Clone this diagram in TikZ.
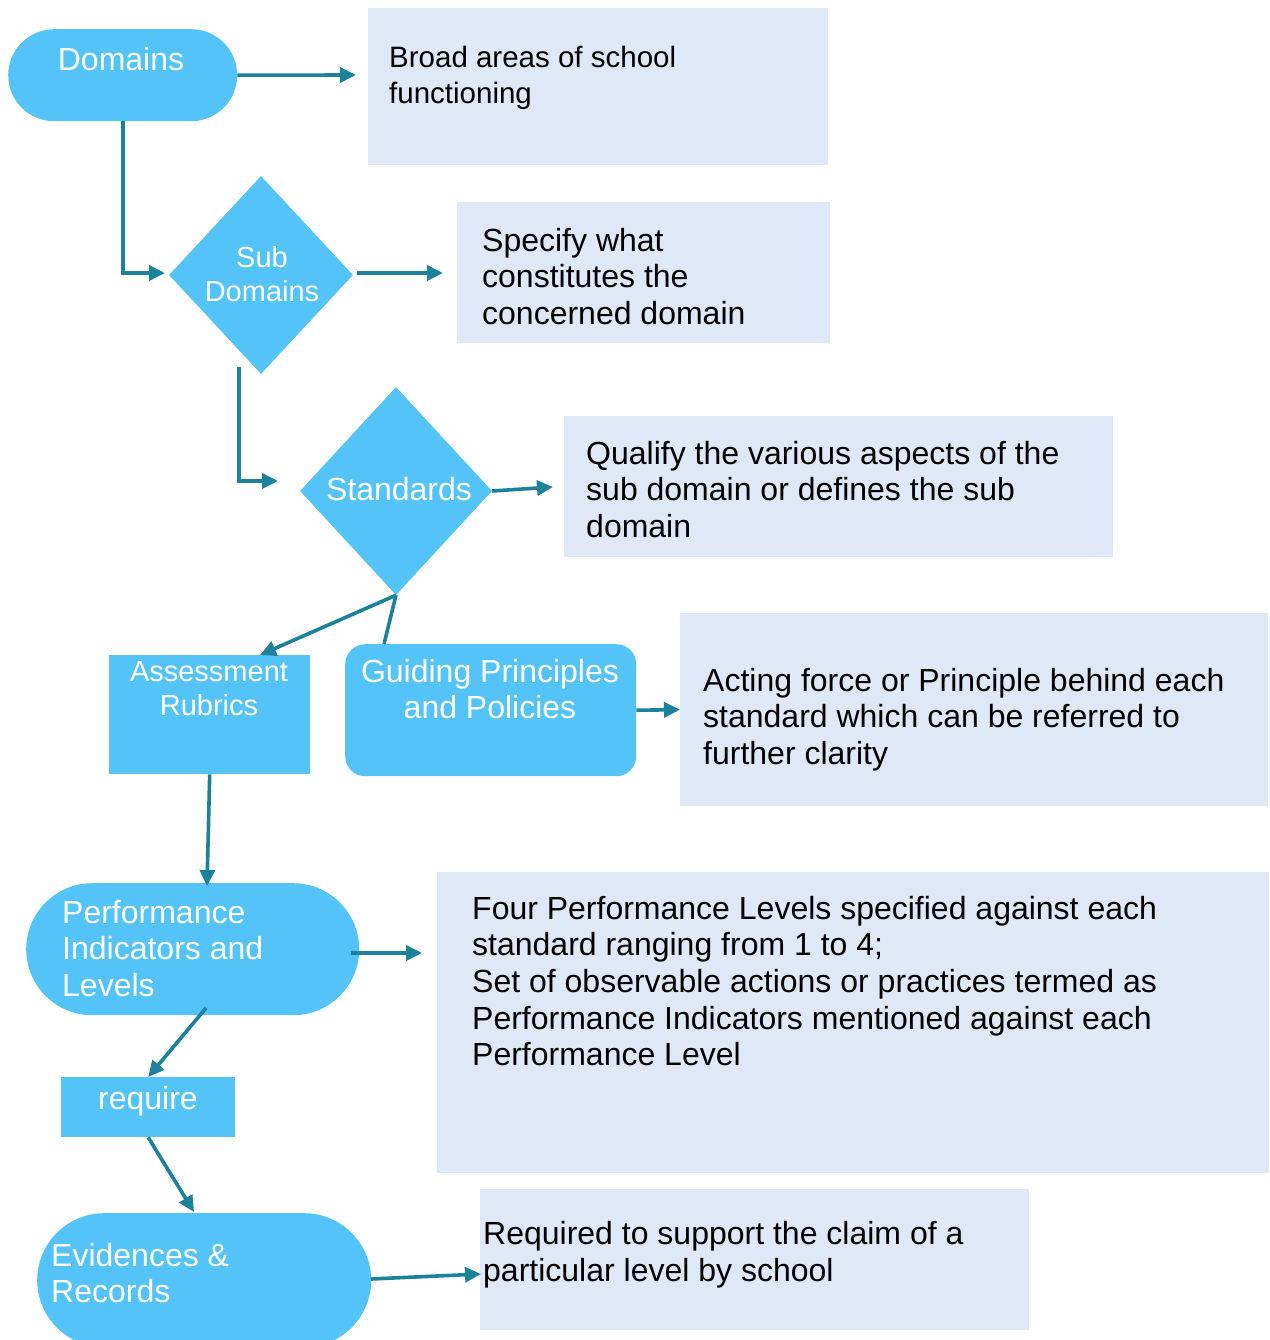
\documentclass[tikz,border=0pt]{standalone}
\usepackage{fontspec}
\setmainfont{Liberation Sans}
\usetikzlibrary{shapes.geometric,arrows.meta,calc}
\definecolor{nodeblue}{HTML}{54C3F8}
\definecolor{boxblue}{HTML}{DEE8F6}
\definecolor{linkcol}{HTML}{1C819B}
\tikzset{
  flow/.style={fill=nodeblue, draw=none, inner sep=0pt, anchor=north west},
  stadium/.style={flow, rectangle, rounded corners=#1},
  gem/.style={fill=nodeblue, draw=none, shape=diamond, inner sep=0pt},
  note/.style={fill=boxblue, draw=none, inner sep=0pt, anchor=north west},
  wtxt/.style={text=white, inner sep=0pt, font=\fontsize{32}{36.5}\selectfont},
  wsmall/.style={text=white, inner sep=0pt, font=\fontsize{29}{34}\selectfont},
  btxt/.style={text=black, inner sep=0pt, anchor=north west, align=left, font=\fontsize{32}{36.6}\selectfont},
  link/.style={draw=linkcol, line width=3.6pt, -{Triangle[length=16pt,width=15pt]}},
  plainlink/.style={draw=linkcol, line width=3.6pt},
}
\begin{document}
\begin{tikzpicture}[x=1pt,y=-1pt]
\useasboundingbox (0,0) rectangle (1269,1340);
\clip (0,0) rectangle (1269,1340);

% explanation boxes
\node[note, minimum width=460, minimum height=157] (b1) at (368,8) {};
\node[note, minimum width=373, minimum height=141] (b2) at (457,202) {};
\node[note, minimum width=549, minimum height=141] (b3) at (564,416) {};
\node[note, minimum width=588, minimum height=193] (b4) at (680,613) {};
\node[note, minimum width=832, minimum height=301] (b5) at (437,872) {};
\node[note, minimum width=549, minimum height=141] (b6) at (480,1189) {};

% flow shapes
\node[stadium=46pt, minimum width=229, minimum height=92] (dom) at (8,29) {};
\node[gem, minimum width=184, minimum height=198] (sub) at (261,275) {};
\node[gem, minimum width=192, minimum height=208] (std) at (396,491) {};
\node[flow, minimum width=201, minimum height=119] (ar) at (109,655) {};
\node[stadium=20pt, minimum width=291, minimum height=132] (gp) at (345,644) {};
\node[stadium=66pt, minimum width=333, minimum height=132] (pil) at (26,883) {};
\node[flow, minimum width=174, minimum height=60] (req) at (61,1077) {};
\node[stadium=67pt, minimum width=334, minimum height=134] (ev) at (37,1213) {};

% labels of the flow shapes
\node[wtxt, anchor=base] (domt) at (121,70.5) {Domains};
\node[wsmall, anchor=north, align=center] (subt) at (262,246) {Sub\\Domains};
\node[wtxt, anchor=base] (stdt) at (399,500.5) {Standards};
\node[wsmall, anchor=north, align=center] (art) at (209,661) {Assessment\\Rubrics};
\node[wtxt, anchor=north, align=center] (gpt) at (490,659) {Guiding Principles\\and Policies};
\node[wtxt, anchor=north west, align=left] (pilt) at (62,900) {Performance\\Indicators and\\Levels};
\node[wtxt, anchor=base] (reqt) at (148,1109.5) {require};
\node[wtxt, anchor=north west, align=left] (evt) at (51,1243) {Evidences \&\\Records};

% explanation texts
\node[btxt, font=\fontsize{29.5}{36}\selectfont] (b1t) at (389,46) {Broad areas of school\\functioning};
\node[btxt] (b2t) at (482,228) {Specify what\\constitutes the\\concerned domain};
\node[btxt] (b3t) at (586,441) {Qualify the various aspects of the\\sub domain or defines the sub\\domain};
\node[btxt] (b4t) at (703,668) {Acting force or Principle behind each\\standard which can be referred to\\further clarity};
\node[btxt] (b5t) at (472,896) {Four Performance Levels specified against each\\standard ranging from 1 to 4;\\Set of observable actions or practices termed as\\Performance Indicators mentioned against each\\Performance Level};
\node[btxt] (b6t) at (483,1221) {Required to support the claim of a\\particular level by school};

% free ends of the connectors
\coordinate (e1) at (356,75);
\coordinate (e2) at (165,273);
\coordinate (e3) at (443,273);
\coordinate (s4) at (239,367);
\coordinate (e4) at (278,481);
\coordinate (e5) at (553,487);
\coordinate (e6) at (260,655);
\coordinate (e7) at (384,644);
\coordinate (e8) at (207,886);
\coordinate (s9) at (351,953);
\coordinate (e9) at (422,953);
\coordinate (s10) at (206,1008);
\coordinate (e11) at (194,1212);
\coordinate (s12) at (371,1279);
\coordinate (e12) at (481,1274);

% connectors
\draw[link] (dom.east) -- (e1);
\draw[link] (dom.south) |- (e2);
\draw[link] (sub.east) ++(4,-2) -- (e3);
\draw[link] (s4) |- (e4);
\draw[link] (std.east) -- (e5);
\draw[link] (std.south) -- (e6);
\draw[plainlink] (std.south) -- (e7);
\draw[link] (gp.east) -- (b4.west);
\draw[link] (ar.south) -- (e8);
\draw[link] (s9) -- (e9);
\draw[link] (s10) -- (req.north);
\draw[link] (req.south) -- (e11);
\draw[link] (s12) -- (e12);
\end{tikzpicture}
\end{document}
